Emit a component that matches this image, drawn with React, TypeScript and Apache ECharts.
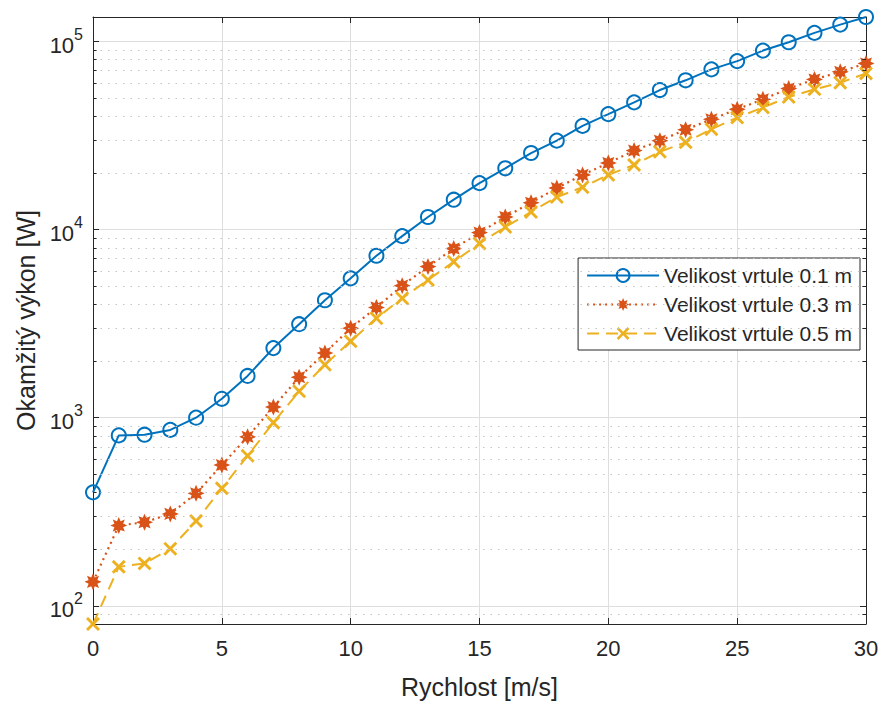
import React, { useEffect, useRef } from "react";
import * as echarts from "echarts";

const speed = [0, 1, 2, 3, 4, 5, 6, 7, 8, 9, 10, 11, 12, 13, 14, 15, 16, 17, 18, 19, 20, 21, 22, 23, 24, 25, 26, 27, 28, 29, 30];
const power01 = [401, 805, 812, 861, 1000, 1260, 1667, 2344, 3141, 4210, 5505, 7260, 9230, 11670, 14420, 17660, 21180, 25530, 29720, 35600, 41100, 47500, 55200, 62200, 71100, 78700, 89500, 99100, 111100, 123000, 135000];
const power03 = [134, 267, 278, 308, 396, 560, 791, 1139, 1641, 2207, 2993, 3854, 5036, 6360, 7925, 9640, 11670, 13900, 16630, 19540, 22600, 26300, 29700, 33970, 38600, 43600, 49300, 56200, 62900, 69000, 76500];
const power05 = [80, 161, 168, 201, 282, 421, 627, 941, 1383, 1914, 2546, 3381, 4315, 5395, 6745, 8440, 10330, 12410, 14900, 16800, 19540, 22080, 25950, 29100, 34200, 39400, 44600, 50700, 55700, 60400, 67700];
const seriesNames = ["Velikost vrtule 0.1 m", "Velikost vrtule 0.3 m", "Velikost vrtule 0.5 m"];
const yMinorGrid = [90, 200, 300, 400, 500, 600, 700, 800, 900, 2000, 3000, 4000, 5000, 6000, 7000, 8000, 9000, 20000, 30000, 40000, 50000, 60000, 70000, 80000, 90000];
const xMin = 0, xMax = 30, xInterval = 5;
const yMin = 80, yMax = 135000;

const FONT = "'Liberation Sans', Arial, Helvetica, sans-serif";
const AX = "#262626";
const C1 = "#0072BD", C2 = "#D95319", C3 = "#EDB120";

function starPath(): string {
  const pts: string[] = [];
  for (let i = 0; i < 16; i++) {
    const r = i % 2 === 0 ? 10 : 5.6;
    const a = (Math.PI / 8) * i - Math.PI / 2;
    pts.push(`${(10 + r * Math.cos(a)).toFixed(2)} ${(10 + r * Math.sin(a)).toFixed(2)}`);
  }
  return "path://M" + pts.join(" L") + " Z";
}
const d = 1.45;
const crossPath = `path://M0 ${d} L${d} 0 L5 ${5 - d} L${10 - d} 0 L10 ${d} L${5 + d} 5 L10 ${10 - d} L${10 - d} 10 L5 ${5 + d} L${d} 10 L0 ${10 - d} L${5 - d} 5 Z`;

export default function App() {
  const ref = useRef<HTMLDivElement>(null);
  useEffect(() => {
    if (!ref.current) return;
    const chart = echarts.init(ref.current, undefined, { renderer: "svg" });
    const pairs = (arr: number[]) => speed.map((x, i) => [x, arr[i]]);
    const axisLine = { show: true, onZero: false, lineStyle: { color: AX, width: 1 } };
    const axisTick = { show: true, inside: true, length: 6, lineStyle: { color: AX, width: 1 } };
    const minorTickLen = 0.14;
    const minorTicks: any[] = [];
    yMinorGrid.forEach((v) => {
      minorTicks.push([{ coord: [xMin, v] }, { coord: [xMin + minorTickLen, v] }]);
      minorTicks.push([{ coord: [xMax - minorTickLen, v] }, { coord: [xMax, v] }]);
    });
    chart.setOption({
      animation: false,
      backgroundColor: "#fff",
      textStyle: { fontFamily: FONT },
      grid: { left: 93, right: 16, top: 17, bottom: 77, containLabel: false },
      legend: {
        data: seriesNames,
        orient: "vertical",
        right: 22,
        top: 258,
        backgroundColor: "#fff",
        borderColor: AX,
        borderWidth: 1,
        borderRadius: 0,
        padding: [7, 8, 6, 8],
        itemGap: 8,
        itemWidth: 72,
        itemHeight: 16,
        textStyle: { fontSize: 21, color: AX, fontFamily: FONT },
      },
      xAxis: [
        {
          type: "value", min: xMin, max: xMax, interval: xInterval, position: "bottom",
          axisLine, axisTick,
          axisLabel: { fontSize: 22, color: AX, margin: 13, fontFamily: FONT },
          splitLine: { show: true, lineStyle: { color: "#dedede", width: 1 } },
          name: "Rychlost [m/s]", nameLocation: "middle", nameGap: 50,
          nameTextStyle: { fontSize: 25, color: AX, fontFamily: FONT },
        },
        {
          type: "value", min: xMin, max: xMax, interval: xInterval, position: "top",
          axisLine, axisTick, axisLabel: { show: false }, splitLine: { show: false },
        },
      ],
      yAxis: [
        {
          type: "log", logBase: 10, min: yMin, max: yMax, position: "left",
          axisLine, axisTick,
          axisLabel: {
            margin: 10, showMinLabel: false, showMaxLabel: false,
            formatter: (v: number) => {
              const e = Math.log10(v);
              if (Math.abs(e - Math.round(e)) > 1e-6) return "";
              return `{b|10}{s|${Math.round(e)}}`;
            },
            rich: {
              b: { fontSize: 22, color: AX, fontFamily: FONT, verticalAlign: "bottom", lineHeight: 22 },
              s: { fontSize: 16, color: AX, fontFamily: FONT, verticalAlign: "top", lineHeight: 30 },
            },
          },
          splitLine: { show: true, lineStyle: { color: "#dedede", width: 1 } },
          name: "Okamžitý výkon [W]", nameLocation: "middle", nameGap: 50, nameRotate: 90,
          nameTextStyle: { fontSize: 25, color: AX, fontFamily: FONT },
        },
        {
          type: "log", logBase: 10, min: yMin, max: yMax, position: "right",
          axisLine, axisTick, axisLabel: { show: false }, splitLine: { show: false },
        },
      ],
      series: [
        {
          name: "grid-minor", type: "line", data: [], z: 1, silent: true,
          markLine: {
            silent: true, symbol: "none", animation: false, label: { show: false },
            lineStyle: { color: "#c4c4c4", type: [1.5, 6], width: 1 },
            data: [
              ...yMinorGrid.map((v) => ({ yAxis: v })),
              ...minorTicks.map((p) => [
                { ...p[0], lineStyle: { color: AX, type: "solid", width: 1 } },
                { ...p[1] },
              ]),
            ],
          },
        },
        {
          name: seriesNames[0], type: "line", data: pairs(power01), clip: false, z: 3,
          symbol: "circle", symbolSize: 14, showAllSymbol: true,
          lineStyle: { color: C1, width: 2, type: "solid" },
          itemStyle: { color: "rgba(255,255,255,0)", borderColor: C1, borderWidth: 2 },
        },
        {
          name: seriesNames[1], type: "line", data: pairs(power03), clip: false, z: 3,
          symbol: starPath(), symbolSize: 17, showAllSymbol: true,
          lineStyle: { color: C2, width: 2.2, type: [2, 4] },
          itemStyle: { color: C2 },
        },
        {
          name: seriesNames[2], type: "line", data: pairs(power05), clip: false, z: 3,
          symbol: crossPath, symbolSize: 14, showAllSymbol: true,
          lineStyle: { color: C3, width: 2, type: [12, 7] },
          itemStyle: { color: C3 },
        },
      ],
    });
    return () => chart.dispose();
  }, []);
  return <div ref={ref} style={{ position: "absolute", left: 0, top: 0, width: 882, height: 704 }} />;
}
